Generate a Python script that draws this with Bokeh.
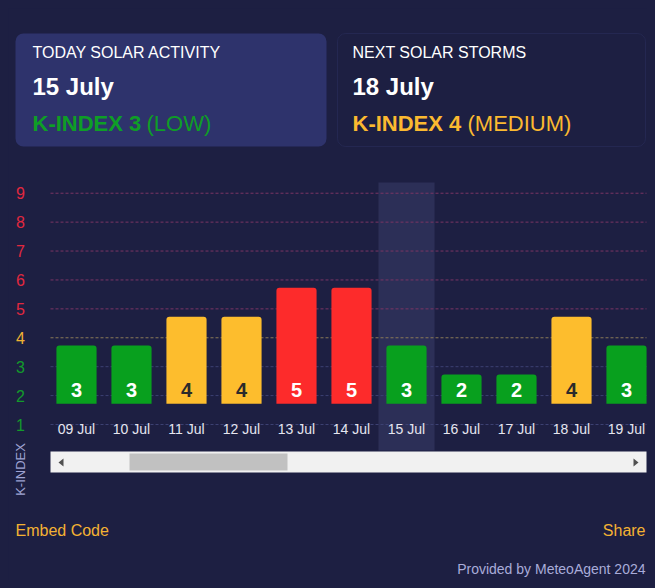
import math
from bokeh.plotting import figure
from bokeh.models import (Range1d, BoxAnnotation, Label, LabelSet, ColumnDataSource,
                          PolyAnnotation)
from bokeh.core.properties import value
from bokeh.embed import file_html
from bokeh.resources import INLINE

# ---------------- data ----------------
dates = ["09 Jul", "10 Jul", "11 Jul", "12 Jul", "13 Jul", "14 Jul",
         "15 Jul", "16 Jul", "17 Jul", "18 Jul", "19 Jul"]
kindex = [3, 3, 4, 4, 5, 5, 3, 2, 2, 4, 3]
y_ticks = [1, 2, 3, 4, 5, 6, 7, 8, 9]
today_date = "15 Jul"
today_title = "TODAY SOLAR ACTIVITY"
today_day = "15 July"
today_k = 3
today_level = "(LOW)"
next_title = "NEXT SOLAR STORMS"
next_day = "18 July"
next_k = 4
next_level = "(MEDIUM)"

# ---------------- style ----------------
BG = "#1d1f42"
CARD = "#2e336c"
CARD_BORDER = "#383e75"
GREEN = "#08a01e"
YELLOW = "#fdbd2d"
RED = "#fd2b2b"
FONT = "Arial"

def bar_color(k):
    return GREEN if k <= 3 else (YELLOW if k == 4 else RED)

def text_color(k):
    return "#0e9e26" if k <= 3 else ("#fbb930" if k == 4 else "#fd2b2b")

def tick_color(k):
    return "#139a2c" if k <= 3 else ("#f0b232" if k == 4 else "#e2283f")

def grid_color(k):
    return "#3c4172" if k <= 3 else ("#8a7a58" if k == 4 else "#7a3564")

# ---------------- geometry (page pixels) ----------------
W, H = 639, 572
PAGE = 8
X0, DX = 76, 55        # first category centre, category spacing
Y1, DY = 424, 28.91    # position of k=1, pixels per k unit

def dx(X):
    return (X - X0) / DX

def dy(Y):
    return 1 + (Y1 - Y) / DY

def sx(X):
    return X - PAGE

def sy(Y):
    return H + PAGE - Y

p = figure(width=W, height=H, output_backend="svg", toolbar_location=None,
           x_axis_type=None, y_axis_type=None,
           x_range=Range1d(dx(PAGE), dx(PAGE + W)),
           y_range=Range1d(dy(PAGE + H), dy(PAGE)),
           min_border=0)
p.background_fill_color = BG
p.border_fill_color = BG
p.outline_line_color = None

xs = list(range(len(dates)))

# highlight of today's column
ti = dates.index(today_date)
p.vbar(x=[ti], width=1.02, bottom=dy(450), top=dy(182), fill_color="#2c2f57",
       line_color=None)

# dashed grid lines
gsrc = ColumnDataSource(dict(y=y_ticks, c=[grid_color(t) for t in y_ticks]))
p.segment(x0=dx(50), x1=dx(646), y0="y", y1="y", line_color="c", line_dash="3 2",
          line_width=1, source=gsrc)

# bars
BAR_BASE = 1.72
BAR_HEAD = 0.73
src = ColumnDataSource(dict(
    x=xs,
    top=[k + BAR_HEAD for k in kindex],
    color=[bar_color(k) for k in kindex],
    label=[str(k) for k in kindex],
    tcolor=["#2b2b2b" if k == 4 else "white" for k in kindex],
    date=dates,
))
p.vbar(x="x", top="top", bottom=BAR_BASE, width=0.73, fill_color="color",
       line_color=None, border_radius=(3, 3, 0, 0), source=src)

p.add_layout(LabelSet(x="x", y=sy(389), y_units="screen", text="label", source=src,
                      text_color="tcolor", text_align="center", text_baseline="middle",
                      text_font=value(FONT), text_font_style="bold",
                      text_font_size=value("20px")))

# x labels
p.add_layout(LabelSet(x="x", y=sy(428), y_units="screen", text="date", source=src,
                      text_color=value("#e6e6f0"), text_align="center",
                      text_baseline="middle", text_font=value(FONT),
                      text_font_size=value("14px")))

# y labels
for t in y_ticks:
    p.add_layout(Label(x=sx(20), y=t, x_units="screen", y_units="data", text=str(t),
                       text_color=tick_color(t), text_align="center",
                       text_baseline="middle", text_font=FONT, text_font_size="16px"))

p.add_layout(Label(x=sx(20), y=sy(469), x_units="screen", y_units="screen",
                   text="K-INDEX", angle=math.pi / 2, text_color="#9fa3d3",
                   text_align="center", text_baseline="middle", text_font=FONT,
                   text_font_size="13px"))

def box(l, r, t, b, **kw):
    p.add_layout(BoxAnnotation(left=sx(l), right=sx(r), top=sy(t), bottom=sy(b),
                               left_units="screen", right_units="screen",
                               top_units="screen", bottom_units="screen",
                               fill_alpha=1, **kw))

# scrollbar
box(50, 646, 451, 472, fill_color="#f1f1f1", line_color=None)
box(129, 287, 453, 470, fill_color="#c1c1c1", line_color=None)
p.add_layout(PolyAnnotation(xs=[sx(58), sx(63), sx(63)], ys=[sy(462), sy(458), sy(466)],
                            xs_units="screen", ys_units="screen",
                            fill_color="#505050", fill_alpha=1, line_color=None))
p.add_layout(PolyAnnotation(xs=[sx(638), sx(633), sx(633)], ys=[sy(462), sy(458), sy(466)],
                            xs_units="screen", ys_units="screen",
                            fill_color="#505050", fill_alpha=1, line_color=None))

# cards
box(15, 326, 33, 146, fill_color=CARD, line_color=None, border_radius=8)
box(337, 645, 33, 146, fill_color=BG, line_color=CARD_BORDER, line_width=1,
    border_radius=8)

def txt(X, Y, s, color, size, bold=False, align="left"):
    p.add_layout(Label(x=sx(X), y=sy(Y), x_units="screen", y_units="screen", text=s,
                       text_color=color, text_font=FONT, text_font_size=size,
                       text_font_style="bold" if bold else "normal",
                       text_align=align, text_baseline="middle"))

txt(32, 52, today_title, "white", "16px")
txt(32, 86, today_day, "white", "24px", bold=True)
txt(32, 123, "K-INDEX %d" % today_k, text_color(today_k), "22px", bold=True)
txt(146, 123, today_level, text_color(today_k), "22px")
txt(352, 52, next_title, "white", "16px")
txt(352, 86, next_day, "white", "24px", bold=True)
txt(352, 123, "K-INDEX %d" % next_k, text_color(next_k), "22px", bold=True)
txt(467, 123, next_level, text_color(next_k), "22px")

# footer
txt(15, 530, "Embed Code", "#f4b233", "16px")
txt(645, 530, "Share", "#f4b233", "16px", align="right")
txt(645, 568, "Provided by MeteoAgent 2024", "#a9acd9", "14px", align="right")

html = file_html(p, INLINE)
html = html.replace("<body>", '<body style="background-color:%s; margin:8px;">' % BG)
open("out.html", "w").write(html)
